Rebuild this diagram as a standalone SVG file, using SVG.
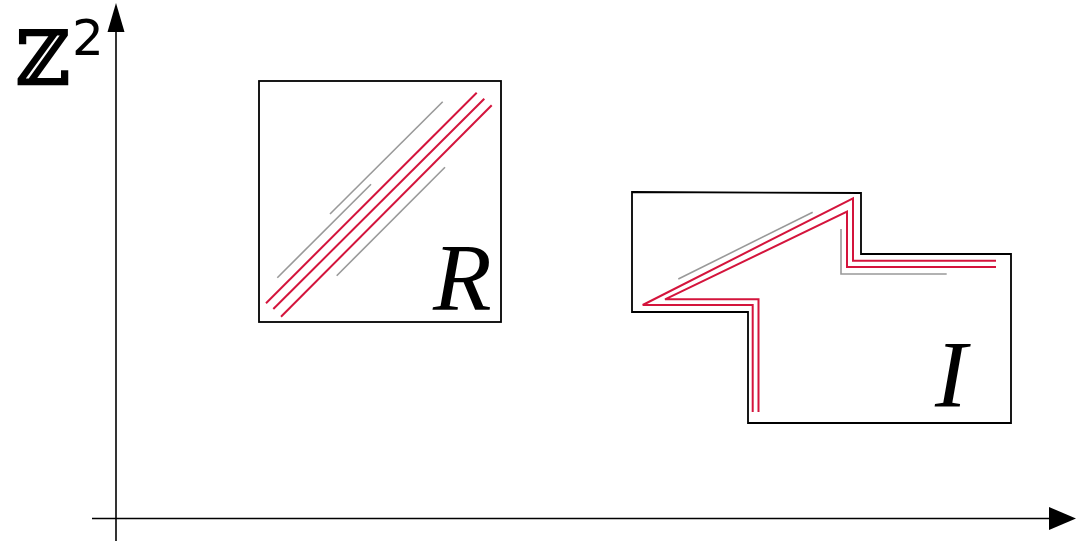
<svg xmlns="http://www.w3.org/2000/svg" width="1076" height="541" viewBox="0 0 1076 541">
<style>
.ax{stroke:#000;stroke-width:1.6;fill:none}
.box{stroke:#000;stroke-width:1.8;fill:none}
.red{stroke:#d4143c;stroke-width:2;fill:none}
.gray{stroke:#999;stroke-width:1.6;fill:none}
.lbl{font-family:"Liberation Serif",serif;font-style:italic;font-size:96px;fill:#000}
</style>
<rect width="1076" height="541" fill="#fff"/>
<g id="axes">
<line class="ax" x1="116" y1="30" x2="116" y2="541"/>
<polygon points="116,3 107.5,32 124.5,32" fill="#000"/>
<line class="ax" x1="92" y1="518.5" x2="1050" y2="518.5"/>
<polygon points="1076,518.5 1049,507 1049,530" fill="#000"/>
<text x="16" y="84" font-family="DejaVu Serif, serif" font-weight="bold" font-size="74">ℤ</text>
<text x="72" y="55" font-family="DejaVu Sans, sans-serif" font-size="50">2</text>
</g>
<g id="R">
<rect class="box" x="259" y="81" width="242" height="241"/>
<line class="red" x1="266" y1="303.3" x2="476.7" y2="92.7"/>
<line class="red" x1="273.3" y1="309" x2="484.3" y2="98.7"/>
<line class="red" x1="281" y1="316.7" x2="491.7" y2="105.3"/>
<line class="gray" x1="277.3" y1="277.7" x2="371" y2="184.3"/>
<line class="gray" x1="330" y1="214" x2="442.7" y2="101.7"/>
<line class="gray" x1="336.7" y1="275.7" x2="445" y2="167.3"/>
<text class="lbl" x="433" y="310">R</text>
</g>
<g id="I">
<polygon class="box" points="632,192 861,193 861,254 1011,254 1011,423 748,423 748,312 632,312"/>
<polyline class="red" points="996,260.7 853,260.7 853,198.3 642.7,305 752.7,305 752.7,412"/>
<polyline class="red" points="996,267 847,267 847,211.7 665,299.3 758.5,299.3 758.5,412"/>
<line class="gray" x1="678.3" y1="279" x2="812.7" y2="212.3"/>
<polyline class="gray" points="841,229 841,274 946.7,274"/>
<text class="lbl" x="935" y="407">I</text>
</g>
</svg>
